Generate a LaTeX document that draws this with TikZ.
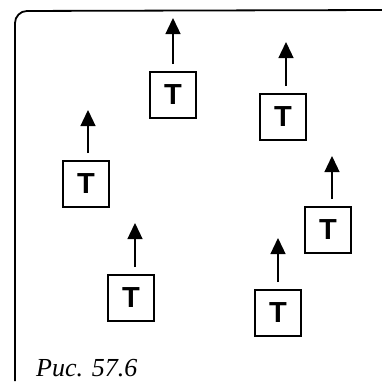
\documentclass[tikz,border=0pt]{standalone}
\usepackage{fontspec}
\setmainfont{Liberation Serif}
\newfontfamily\boxfont{Liberation Sans}
\usetikzlibrary{arrows.meta}
\begin{document}
\begin{tikzpicture}[x=1pt,y=-1pt,
  tbox/.style={draw,line width=1.6pt,minimum width=46pt,minimum height=46pt,inner sep=0pt,
    font=\boxfont\bfseries\fontsize{29}{29}\selectfont},
  arr/.style={line width=1.3pt,-{Triangle[width=15pt,length=16pt]},shorten <=7pt},
  frame/.style={line width=1.8pt,rounded corners=12pt}]
\useasboundingbox (0,0) rectangle (382,381);
\coordinate (fa) at (15,381);
\coordinate (fb) at (15,11);
\coordinate (fc) at (382,10);
\draw[frame] (fa) -- (fb) -- (fc);
\node[tbox] (b1) at (173,95) {T};
\node[tbox] (b2) at (283,117) {T};
\node[tbox] (b3) at (86,184) {T};
\node[tbox] (b4) at (131,298) {T};
\node[tbox] (b5) at (328,230) {T};
\node[tbox] (b6) at (278,313) {T};
\coordinate (t1) at (173,18);
\coordinate (t2) at (286,42);
\coordinate (t3) at (88,110);
\coordinate (t4) at (135,223);
\coordinate (t5) at (332,156);
\coordinate (t6) at (278,238);
\foreach \i in {1,...,6}{\draw[arr] (b\i.north -| t\i) -- (t\i);}
\node[anchor=base west,inner sep=0pt,font=\itshape\fontsize{26}{26}\selectfont] (cap) at (36,376) {Рис. 57.6};
\end{tikzpicture}
\end{document}
